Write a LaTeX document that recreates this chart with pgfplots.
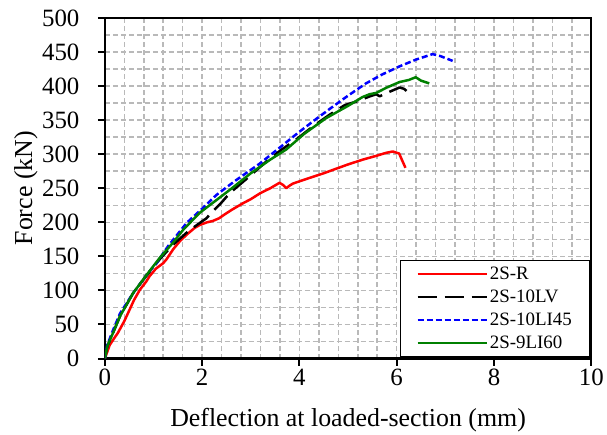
\documentclass[border=0pt]{standalone}
\usepackage{pgfplots}
\pgfplotsset{compat=1.18}
\usepackage{fontspec}
\setmainfont{Liberation Serif}
\definecolor{gridgray}{RGB}{185,185,185}
\definecolor{dgreen}{RGB}{0,128,0}
\begin{document}
\begin{tikzpicture}
\begin{axis}[
  name=ax,
  scale only axis,
  width=487bp, height=341bp,
  xmin=0, xmax=10, ymin=0, ymax=500,
  xtick={0,2,4,6,8,10}, ytick={0,50,...,500},
  minor xtick={0.4,0.8,...,10}, minor ytick={25,75,...,475},
  xmajorgrids, ymajorgrids, xminorgrids, yminorgrids,
  major grid style={draw=gridgray, line width=1.5bp, dash pattern=on 5bp off 3bp},
  minor grid style={draw=gridgray, line width=1.5bp, dash pattern=on 5bp off 3bp},
  axis line style={line width=2.2bp},
  tick align=outside,
  xtick pos=bottom, ytick pos=left,
  major tick length=7bp,
  major tick style={line width=2bp, black},
  minor tick style={draw=none},
  /pgf/number format/assume math mode=true,
  xticklabel={\raisebox{-15bp}{\pgfmathprintnumber{\tick}}},
  yticklabel={\pgfmathprintnumber{\tick}\kern15bp},
  tick label style={font=\fontsize{25}{28}\selectfont},
  xlabel={Deflection at loaded-section (mm)},
  ylabel={Force (kN)},
  label style={font=\fontsize{26}{30}\selectfont},
  xlabel style={at={(axis description cs:0.5,-0.2)}, anchor=base, inner sep=0pt},
  ylabel style={at={(axis description cs:-0.1376,0.5)}, anchor=south, inner sep=0pt},
  legend cell align=left,
  legend style={at={(rel axis cs:1,0)}, anchor=south east, xshift=-1bp, yshift=2bp,
    font=\fontsize{19}{21}\selectfont, draw=black, line width=1bp,
    inner xsep=16bp, inner ysep=4bp, row sep=5bp},
  legend image code/.code={\draw[#1, line width=2.5bp] (0bp,0bp) -- (69bp,0bp);},
  every axis plot/.append style={line width=2.5bp, line join=round},
]
\addplot[red] coordinates {
(0,0)(0.03,6)(0.1,20)(0.27,38)(0.4,55)(0.51,72)(0.6,86)(0.72,101)(0.85,113)(0.92,121)
(1.05,132)(1.2,140)(1.27,146)(1.4,160)(1.55,173)(1.7,183)(1.85,192)(1.95,196)
(2.1,200)(2.22,202)(2.35,206)(2.43,210)(2.6,218)(2.84,228)(3.0,234)(3.2,243)(3.4,250)
(3.59,258)(3.66,255)(3.73,250)(3.8,254)(3.87,257)(4.2,265)(4.5,272)(4.69,277)
(5.0,285)(5.3,292)(5.6,298)(5.78,302)(5.92,304)(6.05,301)(6.18,280)};
\addlegendentry{2S-R}
\addplot[black, dash pattern=on 19bp off 8bp] coordinates {
(0,0)(0.05,18)(0.17,38)(0.31,62)(0.58,96)(0.85,121)(1.13,146)(1.4,167)(1.7,186)
(1.95,199)(2.09,206)(2.2,215)(2.36,226)(2.57,243)(2.9,263)(3.3,288)(3.6,305)(3.94,322)
(4.3,342)(4.6,357)(4.93,372)(5.2,378)(5.45,385)(5.58,388)(5.65,385)(5.8,390)
(6.06,398)(6.15,396)(6.25,390)};
\addlegendentry{2S-10LV}
\addplot[blue, dash pattern=on 6bp off 3bp] coordinates {
(0,0)(0.05,20)(0.17,42)(0.31,66)(0.58,96)(0.85,122)(1.06,140)(1.3,165)(1.68,199)
(2.0,220)(2.29,240)(2.7,262)(3.18,286)(3.6,310)(4.0,333)(4.35,352)(4.69,370)
(5.0,386)(5.37,404)(5.7,417)(6.06,429)(6.4,439)(6.74,447)(6.9,444)(7.15,437)};
\addlegendentry{2S-10LI45}
\addplot[dgreen] coordinates {
(0,0)(0.05,18)(0.17,38)(0.31,62)(0.58,96)(0.85,122)(1.13,148)(1.4,170)(1.61,189)
(1.8,203)(1.95,214)(2.3,233)(2.63,251)(3.0,272)(3.4,292)(3.73,307)(4.1,330)
(4.55,353)(5.0,371)(5.3,384)(5.44,388)(5.58,390)(5.8,398)(6.06,406)(6.25,409)
(6.39,413)(6.5,408)(6.67,404)};
\addlegendentry{2S-9LI60}
\end{axis}
\path (ax.south west) ++(-105bp,-76bp) coordinate (bbA);
\path (ax.north east) ++(15bp,18bp) coordinate (bbB);
\path (bbA) (bbB);
\end{tikzpicture}
\end{document}
